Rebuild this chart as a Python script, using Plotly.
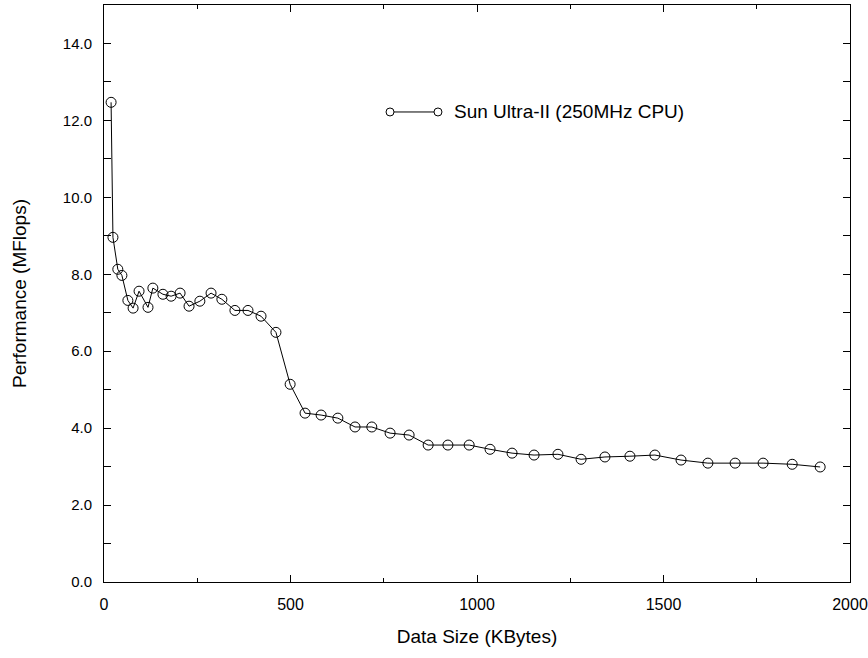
import plotly.graph_objects as go

# Data
data_size_kb = [19, 24, 37, 48, 64, 78, 94, 118, 131, 158, 180, 204, 228, 257, 287,
                316, 351, 386, 421, 461, 499, 539, 582, 627, 673, 718, 767, 818, 869,
                922, 979, 1035, 1094, 1153, 1217, 1279, 1343, 1410, 1477, 1547, 1619,
                1692, 1767, 1845, 1920]
mflops = [12.47, 8.96, 8.13, 7.97, 7.32, 7.12, 7.56, 7.14, 7.64, 7.48, 7.43, 7.51,
          7.17, 7.30, 7.51, 7.35, 7.06, 7.06, 6.91, 6.49, 5.14, 4.39, 4.34, 4.26,
          4.03, 4.03, 3.87, 3.82, 3.56, 3.56, 3.56, 3.45, 3.35, 3.30, 3.32, 3.19,
          3.25, 3.27, 3.30, 3.17, 3.09, 3.09, 3.09, 3.06, 2.99]
series_name = "Sun Ultra-II (250MHz CPU)"
x_title = "Data Size (KBytes)"
y_title = "Performance (MFlops)"
x_ticks = [0, 500, 1000, 1500, 2000]
y_ticks = [0, 2, 4, 6, 8, 10, 12, 14]

FONT = "Liberation Sans, Arial, Helvetica, sans-serif"
TITLE_SIZE = 19

fig = go.Figure()
fig.add_trace(go.Scatter(
    x=data_size_kb, y=mflops, mode="lines+markers", name=series_name,
    line=dict(color="black", width=1),
    marker=dict(symbol="circle-open", size=10, color="black", line=dict(width=1)),
    showlegend=False,
))

# Custom legend sample: line with a circle at each end
lx0, lx1, ly = 0.3834, 0.4477, 0.8146
fig.add_shape(type="line", xref="paper", yref="paper", x0=lx0, x1=lx1, y0=ly, y1=ly,
              line=dict(color="black", width=1))
for ax in (lx0, lx1):
    fig.add_shape(type="circle", xref="paper", yref="paper",
                  xsizemode="pixel", ysizemode="pixel", xanchor=ax, yanchor=ly,
                  x0=-4, x1=4, y0=-4, y1=4,
                  line=dict(color="black", width=1), fillcolor="white")
fig.add_annotation(xref="paper", yref="paper", x=0.4665, y=ly, xanchor="left",
                   yanchor="middle", text=series_name, showarrow=False,
                   font=dict(family=FONT, size=TITLE_SIZE, color="black"))

axis_common = dict(
    showline=True, linecolor="black", linewidth=1, mirror="ticks",
    ticks="inside", ticklen=7, tickcolor="black", tickwidth=1,
    showgrid=False, zeroline=False, automargin=False,
)

fig.update_xaxes(range=[0, 2000], tickvals=x_ticks, ticklabelstandoff=8,
                 tickfont=dict(family=FONT, size=16, color="black"),
                 minor=dict(dtick=250, ticks="inside", ticklen=4, tickcolor="black"),
                 title=dict(text=x_title, font=dict(family=FONT, size=TITLE_SIZE, color="black"),
                            standoff=17),
                 **axis_common)
fig.update_yaxes(range=[0, 15], tickvals=y_ticks, tickformat=".1f", ticklabelstandoff=8,
                 tickfont=dict(family=FONT, size=15, color="black"),
                 minor=dict(dtick=1, ticks="inside", ticklen=7, tickcolor="black"),
                 title=dict(text=y_title, font=dict(family=FONT, size=TITLE_SIZE, color="black"),
                            standoff=31),
                 **axis_common)

fig.update_layout(
    width=868, height=658,
    margin=dict(l=104, r=18, t=5, b=76, autoexpand=False),
    paper_bgcolor="white", plot_bgcolor="white",
    font=dict(family=FONT, color="black"),
)

fig.write_html(
    "out.html",
    config={"displayModeBar": False},
    post_script="document.body.style.margin='0';document.body.style.padding='0';",
)
